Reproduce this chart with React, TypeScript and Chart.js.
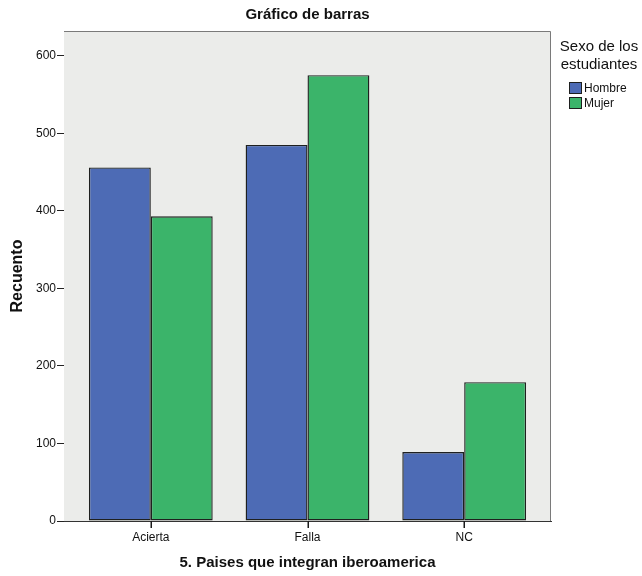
import React, { useEffect, useRef } from "react";
import { Chart, registerables } from "chart.js";

Chart.register(...registerables);

const categories = ["Acierta", "Falla", "NC"];
const hombre = [456, 485, 89];
const mujer = [393, 575, 179];
const yTicks = [0, 100, 200, 300, 400, 500, 600];
const seriesNames = ["Hombre", "Mujer"];
const chartTitle = "Gráfico de barras";
const legendTitle = ["Sexo de los", "estudiantes"];
const xTitle = "5. Paises que integran iberoamerica";
const yTitle = "Recuento";

const BLUE = "#4d6bb5";
const GREEN = "#3bb46a";
const EDGE = "#1e201f";
const FONT = "'Liberation Sans', Arial, sans-serif";

const decor = {
  id: "decor",
  beforeDatasetsDraw(chart: any) {
    const { ctx, chartArea: a } = chart;
    ctx.save();
    ctx.fillStyle = "#ebecea";
    ctx.fillRect(a.left, a.top, a.right - a.left, a.bottom - a.top);
    ctx.restore();
  },
  afterDraw(chart: any) {
    const { ctx, chartArea: a } = chart;
    const xs = chart.scales.x;
    ctx.save();
    ctx.strokeStyle = "#7a7a7a";
    ctx.lineWidth = 1;
    ctx.beginPath();
    ctx.moveTo(a.left, a.top + 0.5);
    ctx.lineTo(a.right - 0.5, a.top + 0.5);
    ctx.lineTo(a.right - 0.5, a.bottom);
    ctx.stroke();
    // x tick marks at category centres
    ctx.fillStyle = "#1a1a1a";
    categories.forEach((_, i) => {
      const px = Math.round(xs.getPixelForValue(i));
      ctx.fillRect(px - 0.5, a.bottom, 1.5, 7);
    });
    // title
    ctx.fillStyle = "#111";
    ctx.font = `bold 15px ${FONT}`;
    ctx.textAlign = "center";
    ctx.textBaseline = "middle";
    ctx.fillText(chartTitle, (a.left + a.right) / 2, 15);
    // legend
    ctx.font = `15px ${FONT}`;
    ctx.fillText(legendTitle[0], 599, 47);
    ctx.fillText(legendTitle[1], 599, 65);
    const colors = [BLUE, GREEN];
    ctx.font = `12px ${FONT}`;
    ctx.textAlign = "left";
    seriesNames.forEach((n, i) => {
      const y = 82 + i * 15;
      ctx.fillStyle = colors[i];
      ctx.fillRect(569, y, 13, 12);
      ctx.strokeStyle = EDGE;
      ctx.strokeRect(569.5, y + 0.5, 12, 11);
      ctx.fillStyle = "#111";
      ctx.fillText(n, 584, y + 6.5);
    });
    ctx.restore();
  },
};

export default function App() {
  const ref = useRef<HTMLCanvasElement>(null);
  useEffect(() => {
    const toPoints = (vals: number[]) => vals.map((v, i) => ({ x: i, y: v }));
    const chart = new Chart(ref.current!, {
      type: "bar",
      data: {
        datasets: [
          { label: seriesNames[0], data: toPoints(hombre), backgroundColor: BLUE, borderColor: EDGE, borderWidth: 1.4, borderSkipped: false, inflateAmount: 0 },
          { label: seriesNames[1], data: toPoints(mujer), backgroundColor: GREEN, borderColor: EDGE, borderWidth: 1.4, borderSkipped: false, inflateAmount: 0 },
        ],
      },
      options: {
        animation: false,
        responsive: false,
        devicePixelRatio: 1,
        layout: { padding: { left: 0, right: 91, top: 31, bottom: 0 } },
        plugins: { legend: { display: false }, title: { display: false }, tooltip: { enabled: false } },
        datasets: { bar: { categoryPercentage: 0.79, barPercentage: 1 } },
        scales: {
          x: {
            type: "linear",
            min: -0.554,
            max: 2.554,
            offset: false,
            grid: { display: true, drawOnChartArea: false, drawTicks: false, offset: false, tickLength: 7, color: "#222" },
            border: { display: true, color: "#333" },
            afterBuildTicks(scale: any) { scale.ticks = categories.map((_, i) => ({ value: i })); },
            ticks: {
              color: "#111",
              font: { family: FONT, size: 12 },
              padding: 9,
              autoSkip: false,
              callback: (v: any) => categories[Math.round(Number(v))] ?? "",
            },
            title: { display: true, text: xTitle, color: "#111", font: { family: FONT, size: 15, weight: "bold" }, padding: { top: 4, bottom: 4 } },
            afterFit(scale: any) { scale.height = 55; },
          },
          y: {
            min: 0,
            max: 632,
            grid: { display: true, drawOnChartArea: false, tickLength: 7, color: "#222" },
            border: { display: true, color: "#333" },
            ticks: { color: "#111", font: { family: FONT, size: 12 }, padding: 1 },
            afterBuildTicks(scale: any) { scale.ticks = yTicks.map((v) => ({ value: v })); },
            title: { display: true, text: yTitle, color: "#111", font: { family: FONT, size: 16, weight: "bold" }, padding: { top: 8, bottom: 4 } },
            afterFit(scale: any) { scale.width = 64; },
          },
        },
      },
      plugins: [decor],
    });
    return () => chart.destroy();
  }, []);
  return (
    <div style={{ position: "fixed", left: 0, top: 0, width: 642, height: 576, background: "#fff" }}>
      <canvas ref={ref} width={642} height={576} style={{ width: 642, height: 576 }} />
    </div>
  );
}
